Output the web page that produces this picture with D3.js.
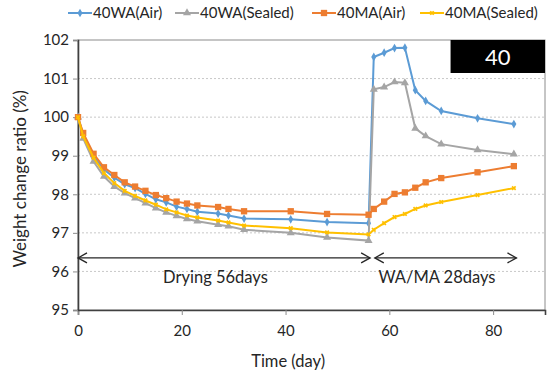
<!DOCTYPE html>
<html>
<head>
<meta charset="utf-8">
<script src="https://cdn.jsdelivr.net/npm/d3@7"></script>
<style>
  body { margin: 0; background: #fff; }
  text { font-family: Lato, "Open Sans", sans-serif; fill: #262626; font-weight: 400; }
</style>
</head>
<body>
<div id="chart"></div>
<script>
// data
var days = [0, 1, 3, 5, 7, 9, 11, 13, 15, 17, 19, 21, 23, 27, 29, 32, 41, 48, 56, 57, 59, 61, 63, 65, 67, 70, 77, 84];
var waAir = [100, 99.55, 98.98, 98.64, 98.43, 98.26, 98.16, 98.01, 97.87, 97.79, 97.68, 97.62, 97.55, 97.5, 97.45, 97.37, 97.35, 97.28, 97.25, 101.56, 101.67, 101.79, 101.8, 100.7, 100.42, 100.16, 99.97, 99.82];
var waSealed = [100, 99.45, 98.85, 98.46, 98.2, 98.03, 97.9, 97.77, 97.64, 97.53, 97.44, 97.36, 97.3, 97.21, 97.17, 97.08, 97.0, 96.88, 96.8, 100.72, 100.78, 100.91, 100.89, 99.71, 99.51, 99.3, 99.15, 99.04];
var maAir = [100, 99.59, 99.05, 98.7, 98.5, 98.31, 98.2, 98.09, 97.98, 97.9, 97.81, 97.76, 97.71, 97.67, 97.62, 97.56, 97.56, 97.49, 97.47, 97.62, 97.81, 98.01, 98.05, 98.17, 98.31, 98.42, 98.57, 98.73];
var maSealed = [100, 99.5, 98.95, 98.55, 98.29, 98.09, 97.96, 97.84, 97.73, 97.61, 97.53, 97.45, 97.4, 97.32, 97.27, 97.19, 97.12, 97.01, 96.96, 97.08, 97.25, 97.41, 97.49, 97.62, 97.71, 97.8, 97.98, 98.16];
var seriesNames = ["40WA(Air)", "40WA(Sealed)", "40MA(Air)", "40MA(Sealed)"];
var xTicks = [0, 20, 40, 60, 80];
var yTicks = [95, 96, 97, 98, 99, 100, 101, 102];

var W = 553, H = 374;
var margin = {top: 40, right: 8, bottom: 64, left: 78}
  , width = W - margin.left - margin.right
  , height = H - margin.top - margin.bottom;

var colors = ["#5B9BD5", "#A5A5A5", "#ED7D31", "#FFC000"];
var shapes = [d3.symbolDiamond, d3.symbolTriangle, d3.symbolSquare, d3.symbolCross];
var sizes = [22, 28, 40, 14];
var allSeries = [waAir, waSealed, maAir, maSealed];

var svg = d3.select("#chart").append("svg")
    .attr("width", W)
    .attr("height", H);

var g = svg.append("g")
    .attr("transform", "translate(" + margin.left + "," + margin.top + ")");

var x = d3.scaleLinear().domain([0, 90]).range([0, width]);
var y = d3.scaleLinear().domain([95, 102]).range([height, 0]);

// grid lines
g.selectAll(".grid")
    .data(yTicks.filter(function(d) { return d > 95 && d < 102; }))
  .enter().append("line")
    .attr("x1", 0).attr("x2", width)
    .attr("y1", function(d) { return y(d); })
    .attr("y2", function(d) { return y(d); })
    .attr("stroke", "#c8c8c8")
    .attr("stroke-dasharray", "2,2");

// frame (top/right)
g.append("rect")
    .attr("width", width).attr("height", height)
    .attr("fill", "none")
    .attr("stroke", "#8c8c8c")
    .attr("stroke-width", 1);

// axes
var xAxis = g.append("g")
    .attr("transform", "translate(0," + height + ")")
    .call(d3.axisBottom(x).tickValues(xTicks).tickSize(5).tickPadding(10).tickFormat(d3.format("d")));
var yAxis = g.append("g")
    .call(d3.axisLeft(y).tickValues(yTicks).tickSize(5).tickPadding(4).tickFormat(d3.format("d")));
[xAxis, yAxis].forEach(function(a) {
  a.select(".domain").attr("stroke", "#404040").attr("stroke-width", 1.6);
  a.selectAll(".tick line").attr("stroke", "#8c8c8c");
  a.selectAll(".tick text").style("font-size", "15px").attr("fill", "#262626")
    .style("font-family", "Lato, 'Open Sans', sans-serif");
});

// lines and markers
var line = d3.line()
    .x(function(d) { return x(d[0]); })
    .y(function(d) { return y(d[1]); });

allSeries.forEach(function(vals, i) {
  var pts = days.map(function(d, j) { return [d, vals[j]]; });
  g.append("path")
      .datum(pts)
      .attr("fill", "none")
      .attr("stroke", colors[i])
      .attr("stroke-width", 2)
      .attr("d", line);
  g.selectAll(".m" + i)
      .data(pts)
    .enter().append("path")
      .attr("transform", function(d) { return "translate(" + x(d[0]) + "," + y(d[1]) + ")" + (i == 3 ? " rotate(45)" : ""); })
      .attr("d", d3.symbol().type(shapes[i]).size(sizes[i]))
      .attr("fill", colors[i]);
});

// arrows
function arrow(x0, x1, yy) {
  var a = g.append("g").attr("stroke", "#262626").attr("fill", "none").attr("stroke-width", 1.3);
  a.append("line").attr("x1", x(x0)).attr("x2", x(x1)).attr("y1", y(yy)).attr("y2", y(yy));
  a.append("path").attr("d", "M" + (x(x0) + 9) + "," + (y(yy) - 5) + "L" + x(x0) + "," + y(yy) + "L" + (x(x0) + 9) + "," + (y(yy) + 5));
  a.append("path").attr("d", "M" + (x(x1) - 9) + "," + (y(yy) - 5) + "L" + x(x1) + "," + y(yy) + "L" + (x(x1) - 9) + "," + (y(yy) + 5));
}
arrow(0, 56.3, 96.35);
arrow(57.2, 84.5, 96.35);

g.append("text")
    .attr("x", x(16.4)).attr("y", y(95.7))
    .style("font-size", "16.5px")
    .text("Drying 56days");
g.append("text")
    .attr("x", x(57.9)).attr("y", y(95.7))
    .style("font-size", "16.5px")
    .text("WA/MA 28days");

// label box
g.append("rect")
    .attr("x", x(71.8)).attr("y", 0)
    .attr("width", width - x(71.8)).attr("height", 33)
    .attr("fill", "#000");
g.append("text")
    .attr("x", (x(71.8) + width) / 2).attr("y", 25)
    .attr("text-anchor", "middle")
    .style("font-size", "22px")
    .style("fill", "#fff")
    .text("40");

// axis titles
svg.append("text")
    .attr("x", margin.left + x(40.5)).attr("y", 367)
    .attr("text-anchor", "middle")
    .style("font-size", "16.5px")
    .style("font-weight", "400")
    .text("Time (day)");
svg.append("text")
    .attr("transform", "translate(26," + (margin.top + y(98.4)) + ") rotate(-90)")
    .attr("text-anchor", "middle")
    .style("font-size", "17px")
    .style("font-weight", "400")
    .text("Weight change ratio (%)");

// legend
var legendX = [68, 175, 312, 420];
var leg = svg.selectAll(".leg")
    .data(seriesNames)
  .enter().append("g")
    .attr("transform", function(d, i) { return "translate(" + legendX[i] + ",13)"; });
leg.append("line")
    .attr("x1", 0).attr("x2", 24)
    .attr("stroke", function(d, i) { return colors[i]; })
    .attr("stroke-width", 2);
leg.append("path")
    .attr("transform", function(d, i) { return "translate(12,0)" + (i == 3 ? " rotate(45)" : ""); })
    .attr("d", function(d, i) { return d3.symbol().type(shapes[i]).size(sizes[i])(); })
    .attr("fill", function(d, i) { return colors[i]; });
leg.append("text")
    .attr("x", 25).attr("y", 5)
    .style("font-size", "15px")
    .text(function(d) { return d; });
</script>
</body>
</html>
